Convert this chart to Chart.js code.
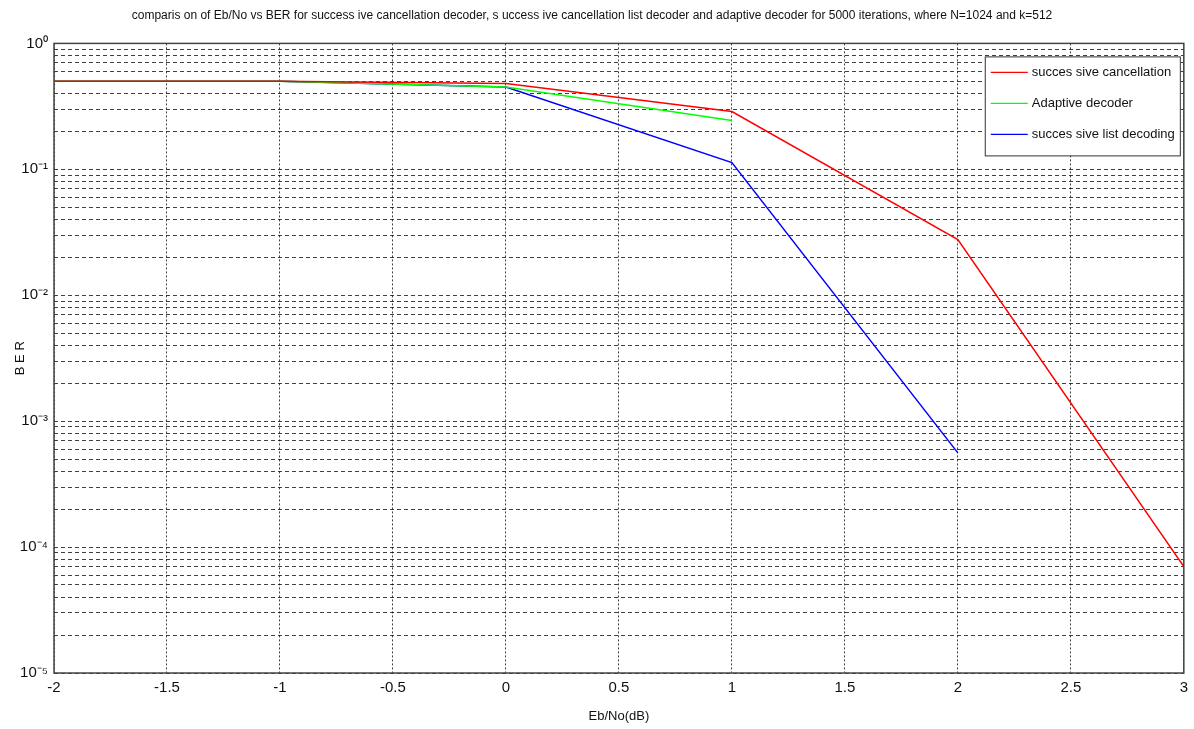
<!DOCTYPE html>
<html>
<head>
<meta charset="utf-8">
<script src="https://cdn.jsdelivr.net/npm/chart.js@4/dist/chart.umd.min.js"></script>
<style>
  html, body { margin: 0; padding: 0; background: #fff; }
  #wrap { width: 1194px; height: 729px; }
</style>
</head>
<body>
<div id="wrap"><canvas id="chart" width="1194" height="729"></canvas></div>
<script>
// data
const ebno = [-2, -1, 0, 1, 2, 3];
const berSC = [0.5, 0.5, 0.48, 0.288, 0.0277, 7.0e-5];
const berAdaptive = [0.5, 0.5, 0.45, 0.244];
const berSCL = [0.5, 0.5, 0.45, 0.113, 5.6e-4];

const seriesNames = ['succes sive cancellation', 'Adaptive decoder', 'succes sive list decoding'];
const seriesColors = ['#ff0000', '#00ff00', '#0000ff'];

// axis ticks
const xTicks = [-2, -1.5, -1, -0.5, 0, 0.5, 1, 1.5, 2, 2.5, 3];
const xTickLabels = ['-2', '-1.5', '-1', '-0.5', '0', '0.5', '1', '1.5', '2', '2.5', '3'];
const yDecades = [1e-5, 1e-4, 1e-3, 1e-2, 1e-1, 1];
const yDecadeLabels = ['10\u207B\u2075', '10\u207B\u2074', '10\u207B\u00B3', '10\u207B\u00B2', '10\u207B\u00B9', '10\u2070'];
const yMinorSteps = [2, 3, 4, 5, 6, 7, 8, 9];

const titleText = 'comparis on of Eb/No vs BER for success ive cancellation decoder, s uccess ive cancellation list decoder and adaptive decoder for 5000 iterations, where N=1024 and k=512';
const FONT = "'Liberation Sans', Arial, sans-serif";

function toPoints(ys) {
  return ys.map((y, i) => ({ x: ebno[i], y: y }));
}

// all the y grid values: decades plus 2..9 inside each decade
const yGrid = [];
yDecades.forEach((d, i) => {
  yGrid.push(d);
  if (i < yDecades.length - 1) yMinorSteps.forEach(m => yGrid.push(d * m));
});

// box round the plot and a matlab style legend
const boxPlugin = {
  id: 'boxAndLegend',
  afterDraw(chart) {
    const ctx = chart.ctx;
    const a = chart.chartArea;
    ctx.save();
    ctx.strokeStyle = '#444';
    ctx.lineWidth = 1.5;
    ctx.strokeRect(a.left, a.top, a.right - a.left, a.bottom - a.top);

    ctx.font = '13px ' + FONT;
    let textW = 0;
    seriesNames.forEach(n => { textW = Math.max(textW, ctx.measureText(n).width); });
    const w = textW + 52;
    const h = 99;
    const x0 = a.right - 4 - w;
    const y0 = a.top + 13;
    ctx.fillStyle = '#fff';
    ctx.fillRect(x0, y0, w, h);
    ctx.strokeStyle = '#333';
    ctx.lineWidth = 1;
    ctx.strokeRect(x0 + 0.5, y0 + 0.5, w, h);
    const rows = [16, 47, 78];
    chart.data.datasets.forEach((ds, i) => {
      const y = y0 + rows[i];
      ctx.strokeStyle = ds.borderColor;
      ctx.lineWidth = 1.2;
      ctx.beginPath();
      ctx.moveTo(x0 + 6, y);
      ctx.lineTo(x0 + 43, y);
      ctx.stroke();
      ctx.fillStyle = '#111';
      ctx.textBaseline = 'middle';
      ctx.fillText(ds.label, x0 + 47, y);
    });
    ctx.restore();
  }
};

new Chart(document.getElementById('chart'), {
  type: 'line',
  data: {
    datasets: [
      { label: seriesNames[0], data: toPoints(berSC), borderColor: seriesColors[0] },
      { label: seriesNames[1], data: toPoints(berAdaptive), borderColor: seriesColors[1] },
      { label: seriesNames[2], data: toPoints(berSCL), borderColor: seriesColors[2] }
    ]
  },
  options: {
    responsive: false,
    animation: false,
    layout: { padding: { top: 0, right: 10, bottom: 0, left: 0 } },
    elements: {
      line: { borderWidth: 1.5, tension: 0, fill: false },
      point: { radius: 0 }
    },
    plugins: {
      legend: { display: false },
      tooltip: { enabled: false },
      title: {
        display: true,
        text: titleText,
        color: '#111',
        font: { family: FONT, size: 12, weight: 'normal' },
        padding: { top: 8, bottom: 21 }
      }
    },
    scales: {
      x: {
        type: 'linear',
        min: -2,
        max: 3,
        afterBuildTicks: s => { s.ticks = xTicks.map(v => ({ value: v })); },
        afterFit: s => { s.height = 56; },
        ticks: {
          autoSkip: false,
          maxRotation: 0,
          padding: 6,
          color: '#111',
          font: { family: FONT, size: 15 },
          callback: v => {
            const i = xTicks.indexOf(v);
            return i >= 0 ? xTickLabels[i] : '';
          }
        },
        grid: { color: 'rgba(0,0,0,0.75)', lineWidth: 1, drawTicks: false },
        border: { display: false, dash: [2, 2] },
        title: {
          display: true,
          text: 'Eb/No(dB)',
          color: '#111',
          font: { family: FONT, size: 13 },
          padding: { top: 2, bottom: 5 }
        }
      },
      y: {
        type: 'logarithmic',
        min: 1e-5,
        max: 1,
        afterBuildTicks: s => { s.ticks = yGrid.map(v => ({ value: v })); },
        afterFit: s => { s.width = 54; },
        ticks: {
          autoSkip: false,
          padding: 6,
          color: '#111',
          font: { family: FONT, size: 15 },
          callback: v => {
            const i = yDecades.findIndex(d => Math.abs(Math.log10(d) - Math.log10(v)) < 1e-9);
            return i >= 0 ? yDecadeLabels[i] : '';
          }
        },
        grid: { color: 'rgba(0,0,0,0.75)', lineWidth: 1, drawTicks: false },
        border: { display: false, dash: [4, 3] },
        title: {
          display: true,
          text: 'B E R',
          color: '#111',
          font: { family: FONT, size: 13 },
          padding: { top: 13, bottom: 0 }
        }
      }
    }
  },
  plugins: [boxPlugin]
});
</script>
</body>
</html>
